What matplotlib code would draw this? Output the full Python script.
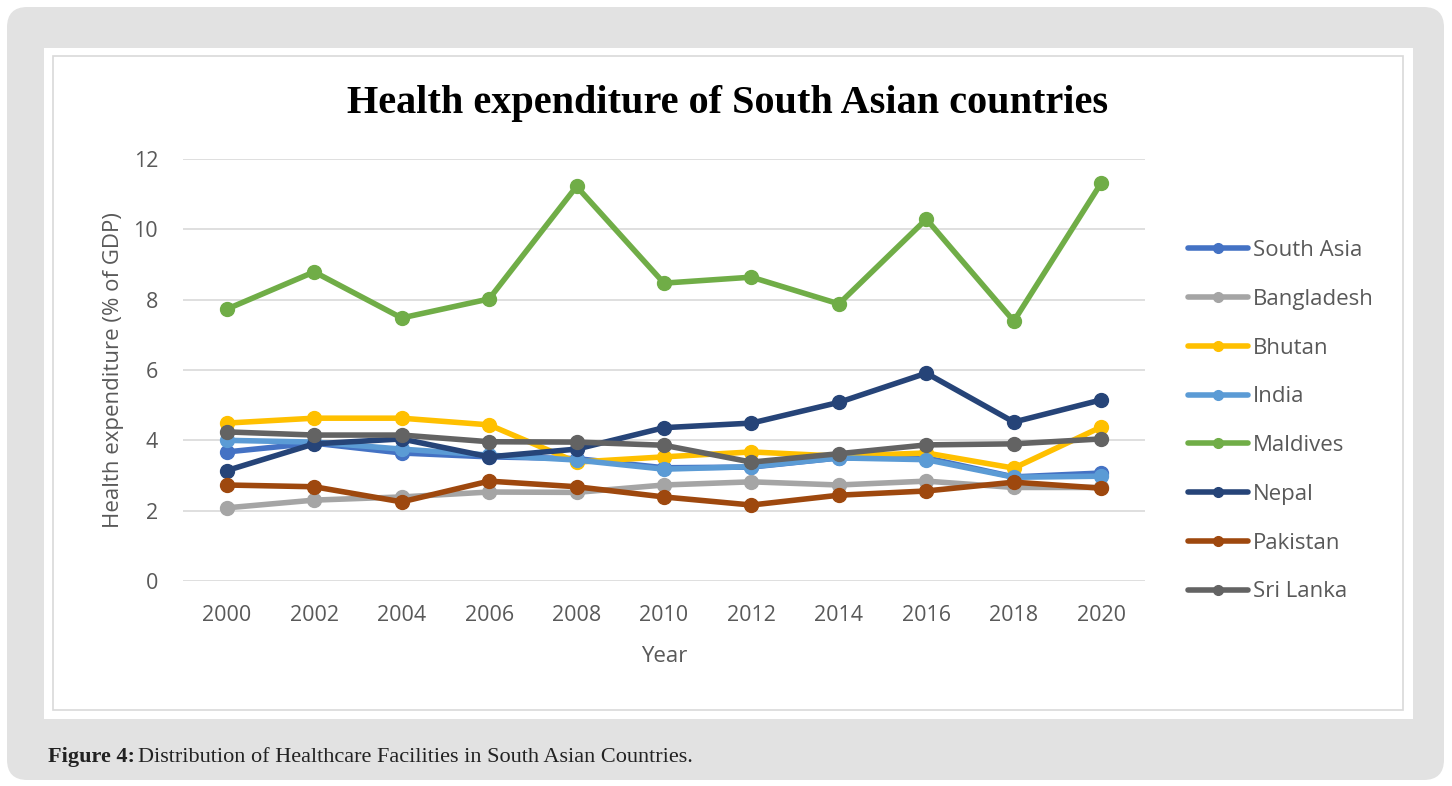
import matplotlib.pyplot as plt
from matplotlib.patches import FancyBboxPatch, Rectangle

years = ["2000", "2002", "2004", "2006", "2008", "2010", "2012", "2014", "2016", "2018", "2020"]

south_asia = [3.67, 3.92, 3.64, 3.53, 3.48, 3.22, 3.24, 3.50, 3.50, 2.96, 3.07]
bangladesh = [2.08, 2.30, 2.39, 2.53, 2.52, 2.73, 2.82, 2.73, 2.84, 2.66, 2.66]
bhutan = [4.49, 4.63, 4.63, 4.44, 3.38, 3.53, 3.67, 3.55, 3.64, 3.21, 4.38]
india = [4.00, 3.95, 3.75, 3.58, 3.44, 3.18, 3.25, 3.50, 3.45, 2.95, 2.98]
maldives = [7.73, 8.79, 7.48, 8.02, 11.22, 8.47, 8.64, 7.88, 10.29, 7.39, 11.32]
nepal = [3.14, 3.90, 4.04, 3.53, 3.75, 4.36, 4.49, 5.08, 5.91, 4.52, 5.15]
pakistan = [2.73, 2.68, 2.25, 2.84, 2.68, 2.39, 2.16, 2.44, 2.56, 2.81, 2.64]
sri_lanka = [4.24, 4.15, 4.15, 3.96, 3.95, 3.86, 3.38, 3.62, 3.87, 3.90, 4.04]

series = [
    ("South Asia", south_asia, "#4472C4"),
    ("Bangladesh", bangladesh, "#A5A5A5"),
    ("Bhutan", bhutan, "#FFC000"),
    ("India", india, "#5B9BD5"),
    ("Maldives", maldives, "#70AD47"),
    ("Nepal", nepal, "#264478"),
    ("Pakistan", pakistan, "#9E480E"),
    ("Sri Lanka", sri_lanka, "#636363"),
]

W, H = 1452, 786
fig = plt.figure(figsize=(W / 100, H / 100), dpi=100)
fig.patch.set_facecolor("white")

# rounded grey card, white chart panel and its thin border
card = FancyBboxPatch((7 / W, 1 - 780 / H), 1437 / W, 773 / H,
                      boxstyle="round,pad=0,rounding_size=0.014",
                      transform=fig.transFigure, facecolor="#E2E2E2",
                      edgecolor="none", mutation_aspect=W / H, zorder=0)
fig.patches.append(card)
fig.patches.append(Rectangle((44 / W, 1 - 719 / H), 1369 / W, 671 / H,
                             transform=fig.transFigure, facecolor="white",
                             edgecolor="none", zorder=0))
fig.patches.append(Rectangle((53 / W, 1 - 710 / H), 1350 / W, 654 / H,
                             transform=fig.transFigure, facecolor="none",
                             edgecolor="#D9D9D9", linewidth=1.2, zorder=0))

ax = fig.add_axes([183 / W, 1 - 581 / H, (1145 - 183) / W, (581 - 159) / H])
ax.set_zorder(2)
ax.set_facecolor("none")

x = list(range(len(years)))
for name, vals, col in series:
    ax.plot(x, vals, color=col, linewidth=4, marker="o", markersize=10,
            solid_capstyle="round", label=name)

ax.set_xlim(-0.5, len(years) - 0.5)
ax.set_ylim(0, 12)
ax.set_yticks(range(0, 13, 2))
ax.set_xticks(x)
ax.set_xticklabels(years)
ax.grid(axis="y", color="#D9D9D9", linewidth=1.2)
ax.set_axisbelow(True)
for s in ax.spines.values():
    s.set_visible(False)
ax.tick_params(length=0, labelsize=15.5, labelcolor="#595959", labelfontfamily="Open Sans")
ax.tick_params(axis="x", pad=17)
ax.tick_params(axis="y", pad=18)

ax.set_xlabel("Year", fontsize=16, color="#595959", family="Open Sans", labelpad=15)
ax.set_ylabel("Health expenditure (% of GDP)", fontsize=16, color="#595959",
              family="Open Sans", labelpad=7)

fig.text(728 / W, 1 - 103 / H, "Health expenditure of South Asian countries",
         ha="center", va="center", fontsize=29, fontweight="bold",
         family="Liberation Serif", color="black", zorder=3)

leg = fig.legend(loc="upper left", bbox_to_anchor=(1168 / W, 1 - 220 / H),
                 frameon=False, prop={"family": "Open Sans", "size": 16},
                 labelspacing=1.25, handlelength=2.7, handletextpad=0.22,
                 markerscale=0.7)
leg.set_zorder(3)
for t in leg.get_texts():
    t.set_color("#595959")

fig.text(48 / W, 1 - 757 / H, "Figure 4:", fontsize=16, fontweight="bold",
         family="Liberation Serif", va="center", color="#222222", zorder=3)
fig.text(138 / W, 1 - 757 / H, "Distribution of Healthcare Facilities in South Asian Countries.",
         fontsize=16, family="Liberation Serif", va="center", color="#222222", zorder=3)

fig.savefig("out.png", dpi=100)
